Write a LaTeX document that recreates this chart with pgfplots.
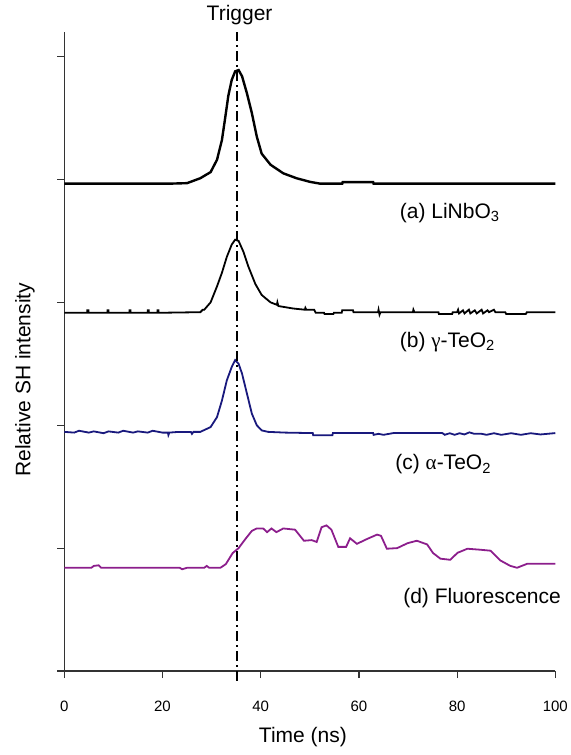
\documentclass[border=0pt]{standalone}
\usepackage{fontspec}
\setmainfont{Liberation Sans}
\newfontfamily\grk{Liberation Serif}
\usepackage{pgfplots}
\pgfplotsset{compat=1.18}
\definecolor{navyc}{RGB}{25,25,125}
\definecolor{purplec}{RGB}{140,30,140}

\begin{document}
\begin{tikzpicture}
\begin{axis}[
  at={(0pt,0pt)}, anchor=south west,
  scale only axis, width=245.5pt, height=319.5pt,
  xmin=0, xmax=100, ymin=0, ymax=5.2,
  axis lines*=left, clip=false,
  axis line style={black!80, line width=0.7pt},
  xtick={0,20,...,100}, ytick={0,...,5}, yticklabels={},
  tick align=outside, major tick length=3.5pt,
  tick style={black!80, line width=0.6pt},
  xticklabel style={font=\fontsize{7.5}{9}\selectfont, yshift=-8pt},
  /pgf/number format/assume math mode=true,
]
% (a) LiNbO3
\addplot[black, line width=1.2pt] coordinates {
(0,3.966)(21.5,3.966)(25.0,3.97)(27.7,4.01)(29.8,4.06)(31.1,4.16)(32.1,4.32)
(32.8,4.51)(33.4,4.68)(34.1,4.81)(34.8,4.88)(35.5,4.89)(36.2,4.84)(37.2,4.70)
(38.2,4.54)(39.2,4.35)(40.2,4.21)(42.0,4.12)(44.6,4.05)(47.3,4.01)(50.1,3.98)
(52.1,3.966)(56.6,3.966)(56.7,3.978)(62.9,3.978)(63.0,3.966)(100,3.966)};
% (b) gamma-TeO2
\addplot[black, line width=0.9pt] coordinates {
(0,2.915)(4.7,2.915)(4.7,2.935)(4.9,2.935)(4.9,2.915)(8.8,2.915)(8.8,2.935)
(9.0,2.935)(9.0,2.915)(13.3,2.915)(13.3,2.935)(13.5,2.935)(13.5,2.915)
(17.0,2.915)(17.0,2.935)(17.2,2.935)(17.2,2.915)(19.0,2.915)(19.0,2.935)
(19.2,2.935)(19.2,2.915)(27.7,2.92)(28.2,2.94)(28.5,2.94)
(29.8,3.00)(31.1,3.13)(32.1,3.24)(33.1,3.37)(34.1,3.47)(34.8,3.51)(35.5,3.50)
(36.5,3.41)(37.5,3.29)(38.9,3.15)(40.2,3.06)(42.0,3.00)(43.3,2.98)(43.4,3.0)
(43.6,2.97)(46.6,2.95)(49.0,2.94)(49.1,2.955)(49.3,2.94)(50.9,2.94)(51.2,2.915)
(52.9,2.915)(53.0,2.905)(54.8,2.905)(54.9,2.915)(56.5,2.915)(56.6,2.935)(58.8,2.935)
(58.9,2.92)(63.9,2.92)(64.0,2.94)(64.2,2.90)(64.4,2.92)(71.0,2.92)(71.1,2.94)
(71.3,2.92)(76.2,2.92)(76.3,2.905)(79.0,2.905)(79.1,2.92)(80.0,2.92)(80.2,2.94)
(80.4,2.91)(81.2,2.935)(81.5,2.91)(82.4,2.94)(82.7,2.91)(83.6,2.935)(84.0,2.91)
(85.0,2.94)(85.3,2.91)(86.2,2.935)(86.5,2.92)(87.5,2.94)(87.8,2.92)(89.8,2.92)
(90.0,2.905)(94.0,2.905)(94.2,2.92)(100,2.92)};
% (c) alpha-TeO2
\addplot[navyc, line width=0.9pt] coordinates {
(0,1.946)(2,1.94)(3,1.955)(5,1.94)(6,1.95)(8,1.935)(9,1.95)(11,1.94)(12,1.955)
(14,1.94)(15,1.95)(17,1.94)(18,1.955)(20,1.94)(21.1,1.94)(21.2,1.92)(21.4,1.94)
(23,1.945)(25.8,1.945)(26,1.93)(26.3,1.946)(27.7,1.946)(29.8,1.985)(31.1,2.066)
(32.1,2.20)(33.1,2.365)(34.1,2.474)(34.8,2.53)(35.5,2.50)(36.2,2.42)(37.2,2.257)
(38.2,2.094)(39.2,2.00)(40.2,1.958)(41.5,1.946)(45,1.94)(50.6,1.936)(50.7,1.918)
(54.6,1.918)(54.7,1.936)(62.9,1.936)(63,1.922)(64,1.93)(65,1.922)(67,1.936)
(77,1.936)(77.5,1.922)(78.5,1.935)(79.5,1.922)(80.5,1.935)(81.5,1.925)(82.5,1.942)
(83.5,1.93)(85,1.93)(86,1.922)(87.5,1.935)(89,1.922)(91,1.935)(93,1.922)(95,1.935)
(97,1.925)(100,1.936)};
% (d) Fluorescence
\addplot[purplec, line width=0.9pt] coordinates {
(0,0.84)(5.5,0.84)(6.0,0.855)(7.0,0.86)(7.5,0.84)(23.5,0.84)(24.0,0.828)(25.0,0.84)
(28.5,0.84)(29.0,0.855)(29.5,0.84)(31.8,0.84)(32.9,0.87)(34.3,0.96)(35.5,1.00)
(36.9,1.075)(38.2,1.14)(39.2,1.16)(40.5,1.16)(41.3,1.13)(42.2,1.16)(43.2,1.13)
(44.6,1.16)(47.0,1.15)(48.8,1.06)(50.4,1.065)(51.4,1.05)(52.4,1.17)(53.4,1.185)
(54.4,1.15)(55.8,1.01)(57.4,1.01)(58.2,1.08)(59.6,1.035)(61.7,1.075)(63.7,1.11)
(64.5,1.10)(65.7,0.995)(67.8,1.00)(69.9,1.04)(71.8,1.06)(73.9,1.03)(75.1,0.96)
(76.6,0.914)(78.6,0.905)(80.1,0.962)(82.1,0.995)(84.7,0.987)(86.8,0.979)
(88.8,0.90)(90.8,0.856)(92.2,0.84)(94.3,0.873)(100,0.873)};
% trigger line
\addplot[black, line width=1pt, dash pattern=on 5pt off 2pt on 1pt off 2pt] coordinates {(35.1,-0.08)(35.1,5.2)};
\node[font=\fontsize{10.5}{12}\selectfont] at (axis cs:35.7,5.34) {Trigger};
\node[anchor=west, font=\fontsize{10.5}{12}\selectfont] at (axis cs:66.9,3.73) {(a) LiNbO\textsubscript{3}};
\node[anchor=west, font=\fontsize{10.5}{12}\selectfont] at (axis cs:66.9,2.68) {(b) {\grk γ}-TeO\textsubscript{2}};
\node[anchor=west, font=\fontsize{10.5}{12}\selectfont] at (axis cs:66.0,1.68) {(c) {\grk α}-TeO\textsubscript{2}};
\node[anchor=west, font=\fontsize{10.5}{12}\selectfont] at (axis cs:67.6,0.59) {(d) Fluorescence};
\node[rotate=90, font=\fontsize{10.5}{12}\selectfont] at (axis cs:-8.0,2.37) {Relative SH intensity};
\node[font=\fontsize{10.5}{12}\selectfont] at (axis cs:48.6,-0.54) {Time (ns)};
\end{axis}
\pgfresetboundingbox
\path (-32.15pt,-42pt) rectangle (253.35pt,335.5pt);
\end{tikzpicture}
\end{document}
